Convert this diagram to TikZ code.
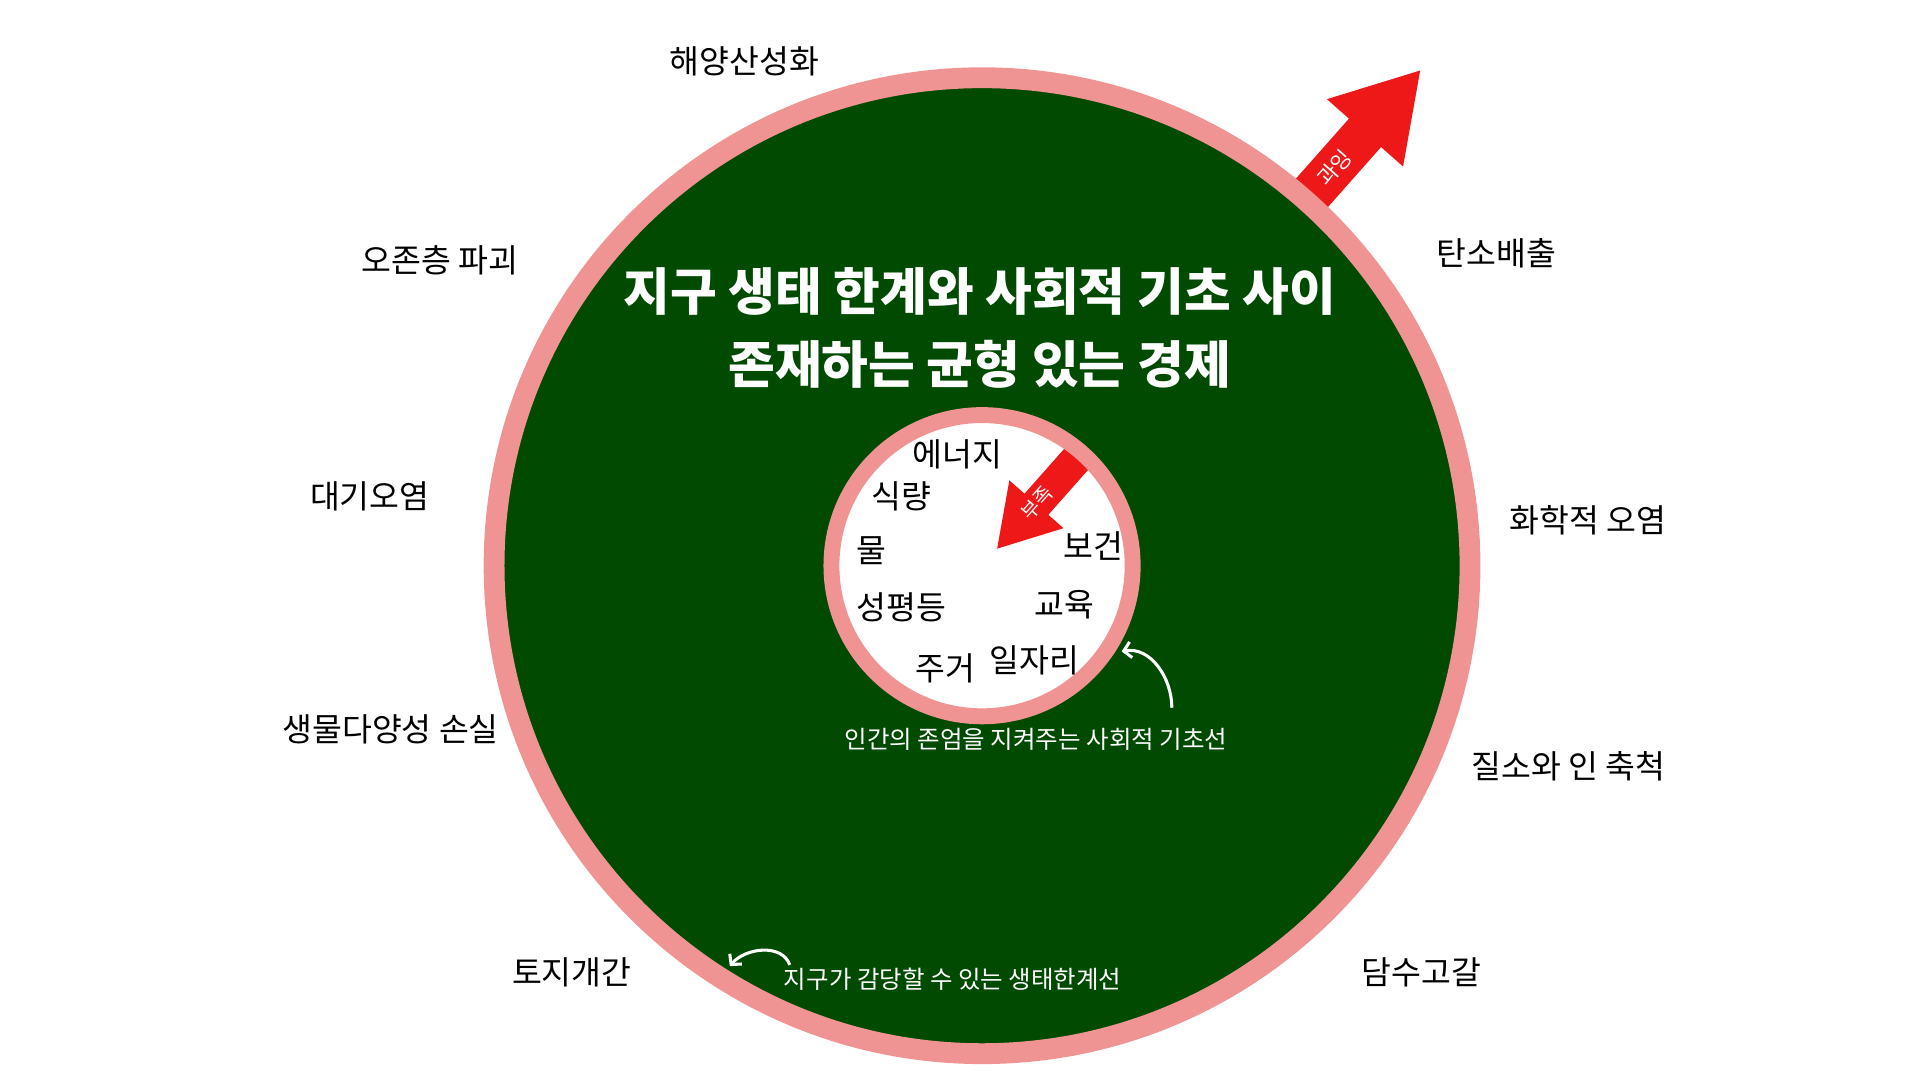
\documentclass[tikz,border=0pt]{standalone}
\usepackage{fontspec}
\setmainfont{Noto Sans CJK KR}
\usetikzlibrary{arrows.meta,calc}
\definecolor{ringpink}{HTML}{F09393}
\definecolor{earthgreen}{HTML}{014A01}
\definecolor{alarmred}{HTML}{EE1818}
\tikzset{
  boundlbl/.style={font=\fontsize{26.5}{30}\selectfont, text=black},
  notelbl/.style={font=\fontsize{20}{24}\selectfont, text=white},
  noteline/.style={draw=white, line width=2.5pt, -{Straight Barb[length=6pt,width=13pt]}},
}
\begin{document}
\begin{tikzpicture}[x=1pt, y=1pt]
	\useasboundingbox (0,0) rectangle (1568,882);
	\coordinate (C) at (802,420);
	% overshoot arrow, its foot hidden under the outer ring
	\begin{scope}[shift={(C)}, rotate=48.5]
		\fill[alarmred] (396,-17.5) -- (472,-17.5) -- (472,-41.5) -- (540,0)
			-- (472,41.5) -- (472,17.5) -- (396,17.5) -- cycle;
	\end{scope}
	\node[rotate=48.5, inner sep=0, text=white, font=\fontsize{17.5}{19}\selectfont] (over) at ($(C)+(48.5:434)$) {과잉};
	% ecological ceiling
	\draw[ringpink, line width=17, fill=earthgreen] (C) circle (398.5);
	\node[align=center, text=white, font=\bfseries\fontsize{41.5}{60}\selectfont] (title) at (800,614)
		{지구 생태 한계와 사회적 기초 사이\\존재하는 균형 있는 경제};
	% social foundation
	\fill[white] (C) circle (123);
	\begin{scope}[shift={(C)}, rotate=48.5]
		\fill[alarmred] (124,-13) -- (67,-13) -- (67,-29.5) -- (18.6,0)
			-- (67,29.5) -- (67,13) -- (124,13) -- cycle;
	\end{scope}
	\draw[ringpink, line width=13] (C) circle (123);
	\node[rotate=48.5, inner sep=0, text=white, font=\fontsize{16}{18}\selectfont] (short) at ($(C)+(48.5:68)$) {부족};
	\foreach \x/\y/\t [count=\i] in {782/511/에너지, 736/477/식량, 712/432/물, 736/386/성평등,
			772/336/주거, 845/343/일자리, 869/388/교육, 893/436/보건}
		\node[boundlbl] (need\i) at (\x,\y) {\t};
	\foreach \x/\y/\t [count=\i] in {608/832/해양산성화, 359/669/오존층 파괴, 302/477/대기오염,
			319/286/생물다양성 손실, 467/88/토지개간, 1222/675/탄소배출, 1297/457/화학적 오염,
			1281/256/질소와 인 축척, 1161/88/담수고갈}
		\node[boundlbl] (limit\i) at (\x,\y) {\t};
	% notes
	\node[notelbl] (socnote) at (846,278) {인간의 존엄을 지켜주는 사회적 기초선};
	\coordinate (socTail) at (957,304);
	\coordinate (socTip) at (916,350);
	\draw[noteline] (socTail) to[out=90, in=10] (socTip);
	\node[notelbl] (econote) at (778,82) {지구가 감당할 수 있는 생태한계선};
	\coordinate (ecoTail) at (645,94);
	\coordinate (ecoTip) at (596,93);
	\draw[noteline] (ecoTail) to[out=110, in=50] (ecoTip);
\end{tikzpicture}
\end{document}
